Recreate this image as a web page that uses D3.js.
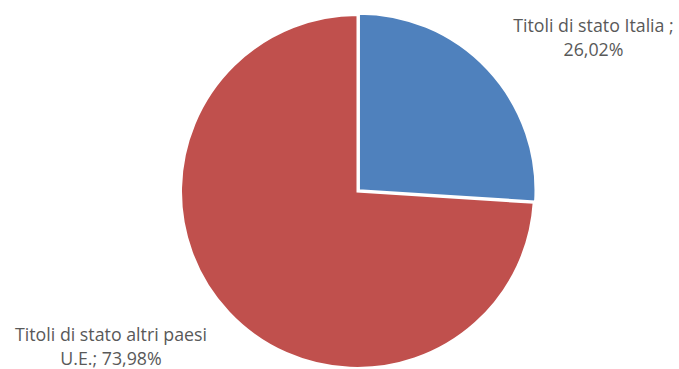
<!DOCTYPE html>
<html>
<head>
<meta charset="utf-8">
<script src="https://cdn.jsdelivr.net/npm/d3@7"></script>
<style>
  body { margin: 0; background: #fff; }
  svg { display: block; }
</style>
</head>
<body>
<svg id="drawing_region"></svg>
<script>
// data
const labels = ["Titoli di stato Italia ;", "Titoli di stato altri paesi U.E.;"];
const values = [26.02, 73.98];
const valueText = ["26,02%", "73,98%"];
const colors = ["#4F81BD", "#C0504D"];

const width = 679, height = 369;
const cx = 357.5, cy = 191.5, radius = 176.5;

const svg = d3.select('#drawing_region')
    .attr('width', width)
    .attr('height', height);

const data = labels.map((l, i) => ({ label: l, value: values[i], text: valueText[i], color: colors[i] }));

const pie = d3.pie()
    .sort(null)
    .value(d => d.value);

const arc = d3.arc()
    .innerRadius(0)
    .outerRadius(radius);

const g = svg.append('g')
    .attr('transform', `translate(${cx}, ${cy})`);

const slices = pie(data);

g.selectAll('path')
    .data(slices)
    .enter()
    .append('path')
    .attr('d', arc)
    .attr('fill', d => d.data.color)
    .attr('transform', (d, i) => {
        // first slice is pulled out a bit
        if (i !== 0) return null;
        const mid = (d.startAngle + d.endAngle) / 2;
        return `translate(${Math.sin(mid) * 2}, ${-Math.cos(mid) * 2})`;
    })
    .attr('stroke', 'white')
    .attr('stroke-width', 2);

// label positions (outside the pie, Excel-like)
const labelPos = [
    { x: 593.5, y: [32, 56], lines: ["Titoli di stato Italia ;", "26,02%"] },
    { x: 111, y: [341, 365], lines: ["Titoli di stato altri paesi", "U.E.; 73,98%"] }
];

labelPos.forEach(p => {
    const t = svg.append('text')
        .attr('text-anchor', 'middle')
        .attr('fill', '#595959')
        .attr('font-family', "'Open Sans', sans-serif")
        .attr('font-size', '17.8px');
    p.lines.forEach((line, i) => {
        t.append('tspan')
            .attr('x', p.x)
            .attr('y', p.y[i])
            .text(line);
    });
});
</script>
</body>
</html>
